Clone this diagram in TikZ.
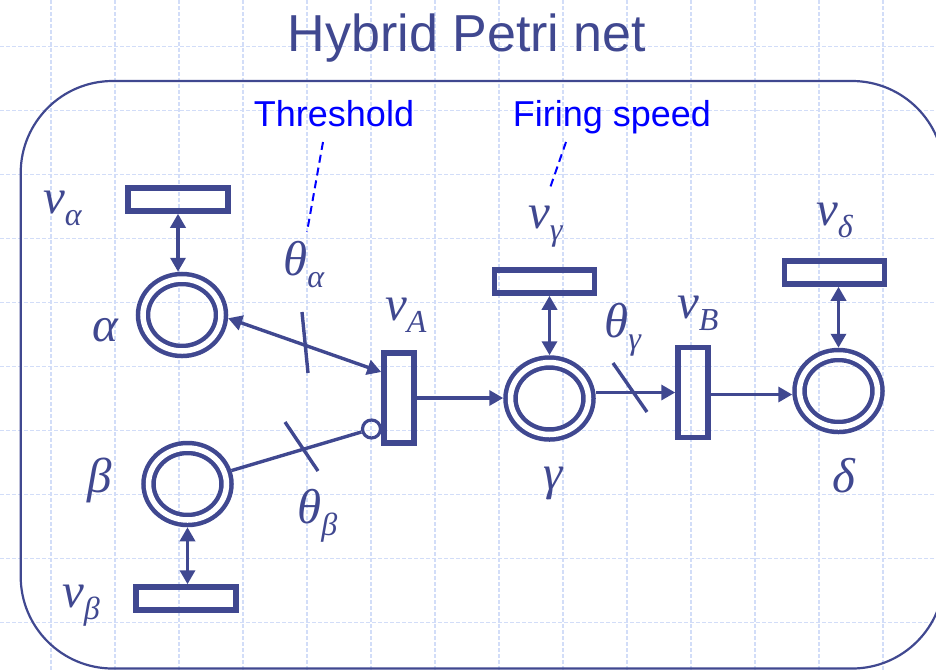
\documentclass[tikz,border=0pt]{standalone}
\usepackage{fontspec}
\setmainfont{Liberation Serif}
\newfontfamily\arialf{Liberation Sans}
\usetikzlibrary{arrows.meta,shapes.geometric}
\definecolor{pn}{HTML}{404890}
\definecolor{gridc}{HTML}{D2DDF8}
\definecolor{annot}{HTML}{0000FF}
\newcommand{\mainsz}{\fontsize{49}{49}\selectfont\itshape}
\newcommand{\subsz}{\fontsize{32}{32}\selectfont\itshape}
\newcommand{\mlab}[2]{\mainsz #1\lower12pt\hbox{\subsz #2}}
\begin{document}
\begin{tikzpicture}[x=1pt,y=-1pt,
  >={Triangle[length=14pt,width=15pt]},
  gridline/.style={draw=gridc,line width=1.2pt,dash pattern=on 4pt off 2pt},
  place/.style={ellipse,draw=pn,line width=4.5pt,double=white,double distance=5.5pt,
     minimum width=78pt,minimum height=72pt,inner sep=0pt,outer sep=7.25pt},
  ratebox/.style={rectangle,draw=pn,line width=5.5pt,minimum width=100pt,minimum height=23pt,inner sep=0pt},
  trans/.style={rectangle,draw=pn,line width=5.5pt,minimum width=30pt,minimum height=90pt,inner sep=0pt},
  inhib/.style={circle,draw=pn,line width=3.2pt,minimum size=18pt,inner sep=0pt},
  arc/.style={draw=pn,line width=3.4pt},
  annline/.style={draw=annot,line width=2pt,dash pattern=on 8pt off 5pt},
  annot text/.style={text=annot,font=\arialf\fontsize{36}{36}\selectfont,inner sep=0pt,anchor=base},
  lab/.style={text=pn,inner sep=0pt,anchor=base west}]
\useasboundingbox (0,0) rectangle (936,670);
\begin{scope}
\clip (0,0) rectangle (936,670);
\foreach \x in {51,115,...,883} \draw[gridline] (\x,0) -- (\x,670);
\foreach \y in {46.7,110.7,...,622.7} \draw[gridline] (0,\y) -- (936,\y);
\draw[pn,line width=2.2pt,rounded corners=92pt] (20.7,81) rectangle (944,668.5);
\end{scope}

% title and annotations
\node[text=pn,font=\arialf\fontsize{52}{52}\selectfont,inner sep=0pt,anchor=base] (title) at (467,51) {Hybrid Petri net};
\node[annot text] (thr) at (334,126) {Threshold};
\node[annot text] (fs) at (612,126) {Firing speed};

% places
\node[place] (a) at (182,315) {};
\node[place] (b) at (187.5,484) {};
\node[place] (g) at (549.5,398.5) {};
\node[place] (d) at (838.5,391) {};

% rate boxes
\node[ratebox] (va) at (178,199.5) {};
\node[ratebox] (vb) at (186,598.5) {};
\node[ratebox] (vg) at (544.5,281.5) {};
\node[ratebox] (vd) at (834.5,272.5) {};

% transitions
\node[trans] (vA) at (399,398) {};
\node[trans] (vB) at (693,392.5) {};
\node[inhib] (inh) at (371.5,429) {};

% labels
\node[lab] (lva) at (43,213) {\mlab{v}{α}};
\node[lab] (lvb) at (62,607) {\mlab{v}{β}};
\node[lab] (lvg) at (528,228) {\mlab{v}{γ}};
\node[lab] (lvd) at (816,225) {\mlab{v}{δ}};
\node[lab] (lvA) at (385,320) {\mlab{v}{A}};
\node[lab] (lvB) at (677,318) {\mlab{v}{B}};
\node[lab] (lta) at (283,275) {\mlab{θ}{α}};
\node[lab] (ltb) at (297,523) {\mlab{θ}{β}};
\node[lab] (ltg) at (604,337) {\mlab{θ}{γ}};
\node[lab] (la) at (92,341) {\mainsz α};
\node[lab] (lb) at (87,492) {\mainsz β};
\node[lab] (lg) at (543,489) {\mainsz γ};
\node[lab] (ld) at (832,492) {\mainsz δ};

% annotation leaders
\coordinate (thrA) at (323,142);
\coordinate (thrB) at (307,232);
\coordinate (fsA) at (566,142);
\coordinate (fsB) at (550,188);
\draw[annline] (thrA) -- (thrB);
\draw[annline] (fsA) -- (fsB);

% arcs
\draw[arc,<->] (va.south) -- (va.south |- a.north);
\draw[arc,<->] (b.south) -- (b.south |- vb.north);
\draw[arc,<->] (g.north) -- (g.north |- vg.south);
\draw[arc,<->] (d.north) -- (d.north |- vd.south);
\draw[arc,<->] (a.-4) -- ([yshift=26pt]vA.west);
\draw[arc] (b.17) -- (inh);
\draw[arc,->] (vA.east) -- (vA.east -| g.west);
\draw[arc,->] (g.east |- vB.west) -- (vB.west);
\draw[arc,->] ([yshift=-2pt]vB.east) -- ([yshift=-2pt]vB.east -| d.west);

% threshold ticks
\draw[arc] (302,312) -- (308,373);
\draw[arc] (285,422) -- (318,471);
\draw[arc] (613,363) -- (647,412);
\end{tikzpicture}
\end{document}
